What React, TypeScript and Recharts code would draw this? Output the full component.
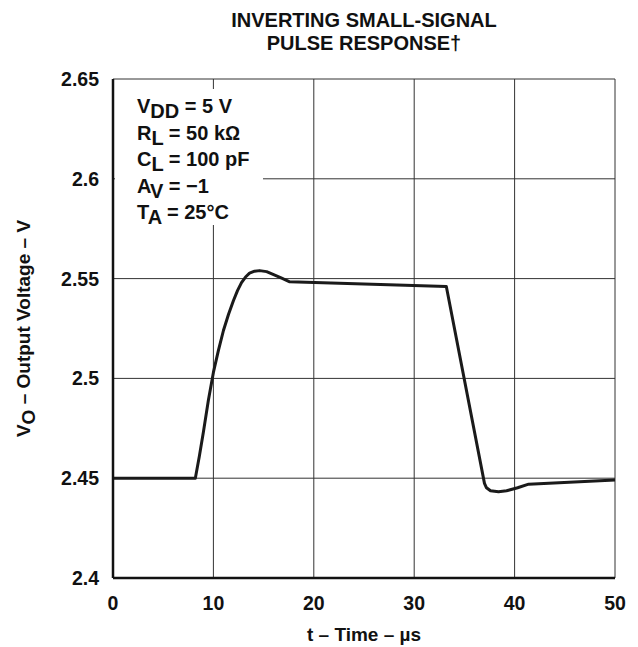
import { LineChart, Line, XAxis, YAxis, CartesianGrid } from "recharts";

const timeUs = [0, 8.2, 8.6, 9, 9.5, 10, 10.5, 11, 11.5, 12, 12.4, 12.8, 13.2, 13.6, 14.1, 14.6, 15.3, 16, 16.8, 17.6, 33.2, 37, 37.2, 37.6, 38.4, 39.2, 40.3, 41.4, 50];
const outputV = [2.45, 2.45, 2.461, 2.473, 2.489, 2.503, 2.514, 2.524, 2.532, 2.539, 2.544, 2.548, 2.5508, 2.5527, 2.5537, 2.554, 2.5535, 2.552, 2.5502, 2.5484, 2.546, 2.4474, 2.4452, 2.4437, 2.4432, 2.4437, 2.4452, 2.447, 2.4491];
const xTicks = [0, 10, 20, 30, 40, 50];
const yTicks = [2.4, 2.45, 2.5, 2.55, 2.6, 2.65];
const conditions = [
  { main: "V", sub: "DD", rest: " = 5 V" },
  { main: "R", sub: "L", rest: " = 50 k\u2126" },
  { main: "C", sub: "L", rest: " = 100 pF" },
  { main: "A", sub: "V", rest: " = \u22121" },
  { main: "T", sub: "A", rest: " = 25\u00b0C" },
];

const data = timeUs.map((t, i) => ({ t, v: outputV[i] }));

const FONT = "'Liberation Sans', Arial, Helvetica, sans-serif";
const tickStyle = { fill: "#111", fontSize: 19.5, fontWeight: 700, fontFamily: FONT };

function YLabel({ viewBox }: any) {
  const cx = 23;
  const cy = viewBox.y + viewBox.height / 2;
  return (
    <text
      x={cx}
      y={cy}
      transform={`rotate(-90 ${cx} ${cy})`}
      textAnchor="middle"
      dominantBaseline="central"
      fontFamily={FONT}
      fontSize={19}
      fontWeight={700}
      fill="#111"
    >
      V<tspan dy={5}>O</tspan>
      <tspan dy={-5}> – Output Voltage – V</tspan>
    </text>
  );
}

export default function App() {
  return (
    <div style={{ position: "absolute", left: 0, top: 0, width: 638, height: 647, background: "#fff", fontFamily: FONT }}>
      <div style={{ position: "absolute", left: 114, width: 500, top: 9, textAlign: "center", fontSize: 20, fontWeight: 700, lineHeight: "23px", color: "#111" }}>
        INVERTING SMALL-SIGNAL
        <br />
        PULSE RESPONSE†
      </div>
      <LineChart width={638} height={647} data={data} margin={{ top: 79, right: 23, left: 53, bottom: 39 }}>
        <CartesianGrid stroke="#333" strokeWidth={1} horizontalValues={yTicks} verticalValues={xTicks} />
        <XAxis
          dataKey="t"
          type="number"
          domain={[0, 50]}
          ticks={xTicks}
          tickLine={false}
          axisLine={{ stroke: "#111", strokeWidth: 2.5 }}
          tick={tickStyle}
          tickMargin={12}
          height={30}
          label={{ value: "t – Time – µs", position: "insideBottom", offset: -33, style: { ...tickStyle, fontSize: 19 } }}
        />
        <XAxis xAxisId="top" orientation="top" dataKey="t" type="number" domain={[0, 50]} ticks={xTicks} tick={false} tickLine={false} height={0} axisLine={{ stroke: "#111", strokeWidth: 2.5 }} />
        <YAxis
          type="number"
          domain={[2.4, 2.65]}
          ticks={yTicks}
          tickLine={false}
          axisLine={{ stroke: "#111", strokeWidth: 2.5 }}
          tick={tickStyle}
          tickMargin={8}
          width={60}
          label={<YLabel />}
        />
        <YAxis yAxisId="right" orientation="right" type="number" domain={[2.4, 2.65]} ticks={yTicks} tick={false} tickLine={false} width={0} axisLine={{ stroke: "#111", strokeWidth: 2.5 }} />
        <Line type="linear" dataKey="v" stroke="#1a1a1a" strokeWidth={3} strokeLinejoin="round" dot={false} isAnimationActive={false} />
      </LineChart>
      <div style={{ position: "absolute", left: 115, top: 89, width: 148, height: 136, background: "#fff", color: "#111", fontSize: 20, fontWeight: 700 }}>
        {conditions.map((c, i) => (
          <div key={i} style={{ position: "absolute", left: 22, top: 7 + i * 26.5, whiteSpace: "nowrap", lineHeight: "20px" }}>
            {c.main}
            <span style={{ position: "relative", top: 5 }}>{c.sub}</span>
            {c.rest}
          </div>
        ))}
      </div>
    </div>
  );
}
